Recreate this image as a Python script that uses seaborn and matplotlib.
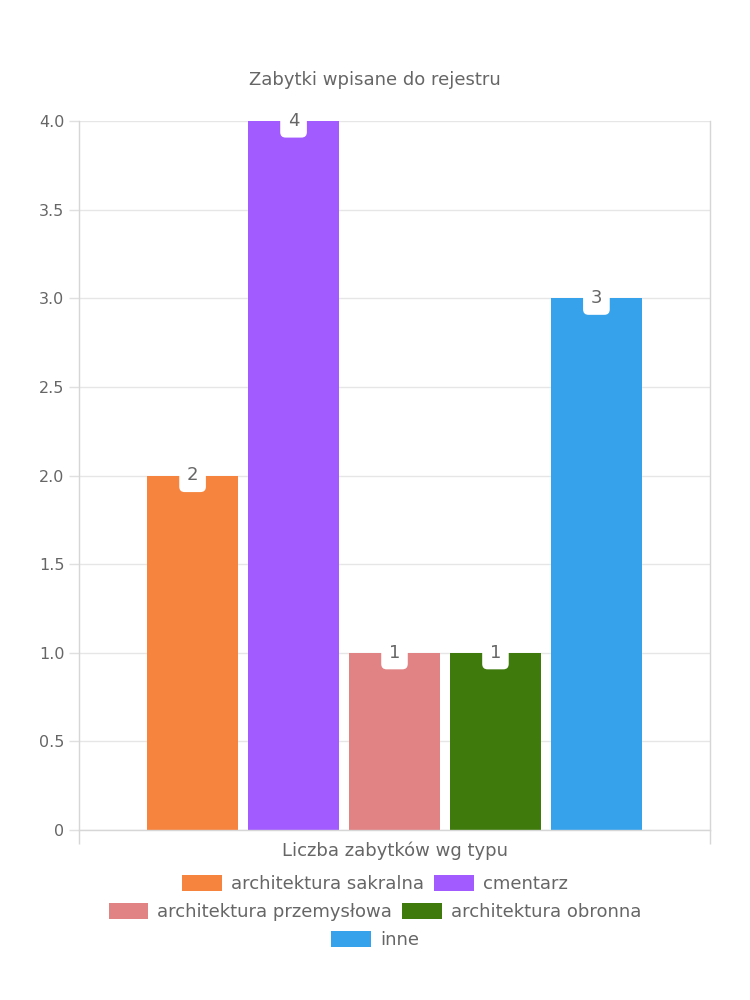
import matplotlib
matplotlib.use("Agg")
import matplotlib.pyplot as plt
import seaborn as sns
import pandas as pd
from matplotlib.patches import Patch
from matplotlib.ticker import FixedLocator, FixedFormatter

title = "Zabytki wpisane do rejestru"
category = "Liczba zabytków wg typu"
types = ["architektura sakralna", "cmentarz", "architektura przemysłowa",
         "architektura obronna", "inne"]
counts = [2, 4, 1, 1, 3]
colors = ["#F6843F", "#A25BFE", "#E18284", "#3F7B0C", "#36A2EB"]
y_ticks = [0, 0.5, 1.0, 1.5, 2.0, 2.5, 3.0, 3.5, 4.0]
y_tick_labels = ["0", "0.5", "1.0", "1.5", "2.0", "2.5", "3.0", "3.5", "4.0"]
legend_rows = [[0, 1], [2, 3], [4]]

sns.set_theme(style="white")
plt.rcParams["font.family"] = ["DejaVu Sans"]

TXT = "#666666"
FS = 11.5
FS_BIG = 13

df = pd.DataFrame({"cat": [category] * len(types), "type": types, "count": counts})

fig = plt.figure(figsize=(7.5, 10), dpi=100)
ax = fig.add_axes([79 / 750, 0.17, 631 / 750, 0.709])
sns.barplot(data=df, x="cat", y="count", hue="type", hue_order=types,
            palette=colors, saturation=1, width=0.8, gap=0.1,
            linewidth=0, ax=ax, legend=False)

ax.set_xlim(-0.5, 0.5)
ax.set_ylim(0, 4)
ax.set_xlabel("")
ax.set_ylabel("")
ax.yaxis.set_major_locator(FixedLocator(y_ticks))
ax.yaxis.set_major_formatter(FixedFormatter(y_tick_labels))
ax.yaxis.grid(True, color="#e6e6e6", lw=1)
ax.set_axisbelow(True)

for s in ["left", "bottom", "right"]:
    ax.spines[s].set_visible(True)
    ax.spines[s].set_color("#d6d6d6")
    ax.spines[s].set_linewidth(1)
ax.spines["top"].set_visible(False)

ax.tick_params(axis="y", which="major", left=True, length=7, width=1,
               color="#e0e0e0", labelcolor=TXT, labelsize=FS, pad=3.5)
ax.tick_params(axis="x", which="major", bottom=True, length=0,
               labelcolor=TXT, labelsize=FS_BIG, pad=8)
ax.xaxis.set_minor_locator(FixedLocator([-0.5, 0.5]))
ax.tick_params(axis="x", which="minor", bottom=True, length=10, width=1,
               color="#d6d6d6")

for p in ax.patches:
    h = p.get_height()
    ax.annotate(f"{int(round(h))}", xy=(p.get_x() + p.get_width() / 2, h),
                ha="center", va="center", color=TXT, fontsize=FS_BIG,
                annotation_clip=False,
                bbox=dict(boxstyle="round,pad=0.42,rounding_size=0.3",
                          fc="white", ec="none"))

fig.text(0.5, 1 - 80 / 1000, title, ha="center", va="center",
         color=TXT, fontsize=FS_BIG)

row_y = [884, 912, 940]
for row, yy in zip(legend_rows, row_y):
    handles = [Patch(fc=colors[i], ec="none") for i in row]
    labels = [types[i] for i in row]
    fig.legend(handles, labels, loc="center", bbox_to_anchor=(0.5, 1 - yy / 1000),
               ncol=len(row), frameon=False, handlelength=2.2, handleheight=1.0,
               handletextpad=0.5, columnspacing=0.55, fontsize=FS_BIG,
               labelcolor=TXT, borderpad=0, borderaxespad=0)

fig.savefig("out.png", dpi=100)
